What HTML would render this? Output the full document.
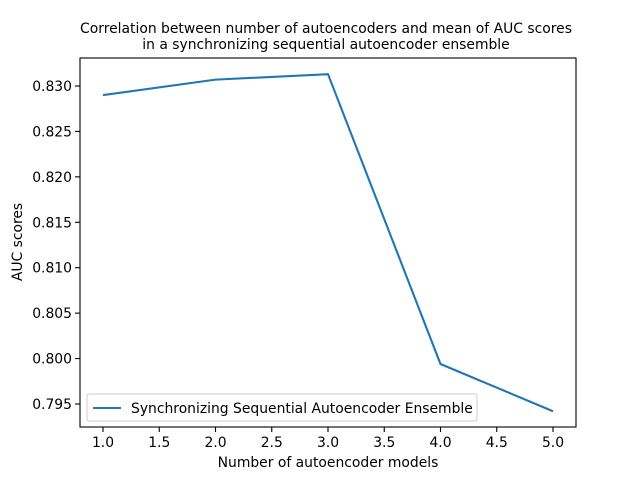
<!DOCTYPE html>
<html><head><meta charset="utf-8"><style>
body{margin:0;background:#fff}
svg text{font-family:"DejaVu Sans","Liberation Sans",sans-serif;fill:#000}
</style></head><body>
<svg id="chart" width="640" height="480" xmlns="http://www.w3.org/2000/svg">
<rect width="640" height="480" fill="#fff"/>
<text x="326" y="33" font-size="13.9" text-anchor="middle">Correlation between number of autoencoders and mean of AUC scores</text>
<text x="326" y="49" font-size="13.9" text-anchor="middle">in a synchronizing sequential autoencoder ensemble</text>
<g id="xticks"></g><g id="yticks"></g>
<path id="line" fill="none" stroke="#1f77b4" stroke-width="2.1"/>
<rect x="80" y="58" width="496" height="369" fill="none" stroke="#000" stroke-width="1.1"/>
<text x="328" y="467" font-size="13.9" text-anchor="middle">Number of autoencoder models</text>
<text transform="translate(22,242) rotate(-90)" font-size="13.9" text-anchor="middle">AUC scores</text>
<g>
<rect x="87" y="394" width="390" height="27" rx="2" fill="#fff" fill-opacity="0.8" stroke="#ccc"/>
<line x1="93" y1="408" x2="121" y2="408" stroke="#1f77b4" stroke-width="2.1"/>
<text x="131" y="413" font-size="13.9">Synchronizing Sequential Autoencoder Ensemble</text>
</g>
</svg>
<script>
const xValues=[1,2,3,4,5];
const aucValues=[0.8290,0.8307,0.8313,0.7994,0.7942];
const xTickLabels=["1.0","1.5","2.0","2.5","3.0","3.5","4.0","4.5","5.0"];
const yTickLabels=["0.795","0.800","0.805","0.810","0.815","0.820","0.825","0.830"];
const NS="http://www.w3.org/2000/svg";
function xs(v){return 103+(v-1)*112.5;}
function ys(v){return 404-(v-0.795)/0.005*45.43;}
const xg=document.getElementById('xticks'),yg=document.getElementById('yticks');
xTickLabels.forEach(l=>{const v=parseFloat(l),x=xs(v);
const t=document.createElementNS(NS,'line');t.setAttribute('x1',x);t.setAttribute('x2',x);t.setAttribute('y1',427);t.setAttribute('y2',432);t.setAttribute('stroke','#000');t.setAttribute('stroke-width','1.1');


xg.appendChild(t);
const tx=document.createElementNS(NS,'text');tx.setAttribute('x',x);tx.setAttribute('y',447);tx.setAttribute('font-size','13.9');tx.setAttribute('text-anchor','middle');tx.textContent=l;


xg.appendChild(tx);});
yTickLabels.forEach(l=>{const v=parseFloat(l),y=ys(v);
const t=document.createElementNS(NS,'line');t.setAttribute('x1',75);t.setAttribute('x2',80);t.setAttribute('y1',y);t.setAttribute('y2',y);t.setAttribute('stroke','#000');t.setAttribute('stroke-width','1.1');


yg.appendChild(t);
const tx=document.createElementNS(NS,'text');tx.setAttribute('x',72);tx.setAttribute('y',y+5);tx.setAttribute('font-size','13.9');tx.setAttribute('text-anchor','end');tx.textContent=l;


yg.appendChild(tx);});
document.getElementById('line').setAttribute('d',xValues.map((x,i)=>(i?'L':'M')+xs(x)+','+ys(aucValues[i])).join(' '));
</script>
</body></html>
